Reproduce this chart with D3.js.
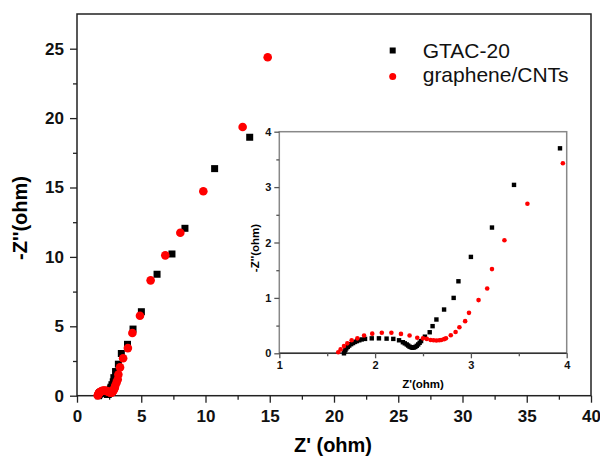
<!DOCTYPE html>
<html>
<head>
<meta charset="utf-8">
<script src="https://cdn.jsdelivr.net/npm/d3@7"></script>
<style>
  body { margin: 0; background: #fff; }
  svg { display: block; font-family: "Liberation Sans", Arial, sans-serif; }
</style>
</head>
<body>
<svg id="chart" width="600" height="461"></svg>
<script>
// datos (Z' y -Z'' en ohm)
const gtacZre = [1.675, 1.68, 1.69, 1.70, 1.715, 1.73, 1.75, 1.77, 1.79, 1.81, 1.835, 1.86, 1.895,
  1.965, 2.04, 2.12, 2.19, 2.25, 2.29, 2.31, 2.33, 2.345, 2.36, 2.375, 2.39, 2.405, 2.42, 2.435, 2.45,
  2.465, 2.48, 2.52, 2.57, 2.60, 2.64, 2.72, 2.82, 2.87, 3.00, 3.22, 3.45, 3.93,
  4.36, 5.01, 6.23, 7.39, 8.40, 10.71, 13.44];
const gtacZim = [0.0, 0.03, 0.06, 0.09, 0.115, 0.14, 0.165, 0.185, 0.205, 0.22, 0.235, 0.25, 0.26,
  0.27, 0.27, 0.265, 0.26, 0.235, 0.20, 0.18, 0.16, 0.14, 0.12, 0.11, 0.10, 0.105, 0.115, 0.135, 0.16,
  0.19, 0.22, 0.30, 0.38, 0.49, 0.61, 0.79, 1.00, 1.30, 1.74, 2.27, 3.04, 3.70,
  4.80, 6.05, 8.75, 10.21, 12.06, 16.36, 18.62];

const cntZre = [1.615, 1.64, 1.675, 1.71, 1.755, 1.815, 1.885, 1.97, 2.07, 2.17, 2.27, 2.36, 2.44,
  2.50, 2.54, 2.58, 2.61, 2.64, 2.67, 2.69, 2.72, 2.74, 2.79, 2.84, 2.88, 2.94, 2.98, 3.08, 3.17,
  3.22, 3.35, 3.59, 3.96, 4.31, 4.90, 5.73, 6.87, 8.04, 9.83, 12.89, 14.84];
const cntZim = [0.02, 0.07, 0.13, 0.18, 0.235, 0.27, 0.32, 0.355, 0.37, 0.37, 0.35, 0.32, 0.28,
  0.27, 0.26, 0.24, 0.235, 0.23, 0.235, 0.24, 0.255, 0.27, 0.325, 0.385, 0.47, 0.58, 0.73, 0.96, 1.17,
  1.52, 2.04, 2.70, 3.43, 4.52, 5.76, 8.31, 10.11, 11.74, 14.73, 19.36, 24.38];

const seriesNames = ["GTAC-20", "graphene/CNTs"];
const mainXTicks = [0, 5, 10, 15, 20, 25, 30, 35, 40];
const mainYTicks = [0, 5, 10, 15, 20, 25];
const insetXTicks = [1, 2, 3, 4];
const insetYTicks = [0, 1, 2, 3, 4];

const gtac = gtacZre.map((v, i) => ({ x: v, y: gtacZim[i] }));
const cnt = cntZre.map((v, i) => ({ x: v, y: cntZim[i] }));

const svg = d3.select("#chart");

// ---- grafico principal ----
const x = d3.scaleLinear().domain([0, 40]).range([77, 591]);
const y = d3.scaleLinear().domain([0, 27.5]).range([395.7, 14]);

function minors(ticks) {
  const out = [];
  for (let i = 0; i < ticks.length - 1; i++) out.push((ticks[i] + ticks[i + 1]) / 2);
  return out;
}

function ejes(g, xs, ys, xt, yt, opt) {
  // menores
  g.append("g")
    .attr("transform", `translate(0,${ys.range()[0]})`)
    .call(d3.axisBottom(xs).tickValues(minors(xt)).tickSize(opt.minor).tickFormat(""))
    .call(a => a.select(".domain").remove())
    .selectAll("line").attr("stroke", opt.color).attr("stroke-width", 1.3);
  g.append("g")
    .attr("transform", `translate(${xs.range()[0]},0)`)
    .call(d3.axisLeft(ys).tickValues(minors(yt)).tickSize(opt.minor).tickFormat(""))
    .call(a => a.select(".domain").remove())
    .selectAll("line").attr("stroke", opt.color).attr("stroke-width", 1.3);
  // mayores
  const ax = g.append("g")
    .attr("transform", `translate(0,${ys.range()[0]})`)
    .call(d3.axisBottom(xs).tickValues(xt).tickSize(opt.major).tickPadding(opt.padX).tickFormat(d3.format("d")))
    .call(a => a.select(".domain").remove());
  ax.selectAll("line").attr("stroke", opt.color).attr("stroke-width", 1.3);
  ax.selectAll("text").style("font-size", opt.font + "px").style("font-weight", "bold").attr("fill", "#111");
  const ay = g.append("g")
    .attr("transform", `translate(${xs.range()[0]},0)`)
    .call(d3.axisLeft(ys).tickValues(yt).tickSize(opt.major).tickPadding(opt.padY).tickFormat(d3.format("d")))
    .call(a => a.select(".domain").remove());
  ay.selectAll("line").attr("stroke", opt.color).attr("stroke-width", 1.3);
  ay.selectAll("text").style("font-size", opt.font + "px").style("font-weight", "bold").attr("fill", "#111");
}

const main = svg.append("g");
main.append("rect")
  .attr("x", x(0)).attr("y", y(27.5))
  .attr("width", x(40) - x(0)).attr("height", y(0) - y(27.5))
  .attr("fill", "#fff").attr("stroke", "#222").attr("stroke-width", 1.5);

ejes(main, x, y, mainXTicks, mainYTicks,
  { major: 7, minor: 4, padX: 7, padY: 6, font: 17, color: "#222" });

main.append("text")
  .attr("x", 333).attr("y", 452)
  .attr("text-anchor", "middle")
  .style("font-size", "20px").style("font-weight", "bold")
  .text("Z' (ohm)");
main.append("text")
  .attr("transform", "translate(27,218) rotate(-90)")
  .attr("text-anchor", "middle")
  .style("font-size", "20px").style("font-weight", "bold")
  .text("-Z''(ohm)");

main.selectAll("rect.gtac")
  .data(gtac).join("rect")
  .attr("class", "gtac")
  .attr("x", d => x(d.x) - 3.5).attr("y", d => y(d.y) - 3.5)
  .attr("width", 7).attr("height", 7).attr("fill", "#000");
// los circulos rojos quedan sobre los cuadrados
main.selectAll("circle.cnt")
  .data(cnt).join("circle")
  .attr("class", "cnt")
  .attr("cx", d => x(d.x)).attr("cy", d => y(d.y))
  .attr("r", 4.3).attr("fill", "#f00");

// leyenda
const leyenda = main.append("g").attr("transform", "translate(392.7,0)");
const filaY = [50.5, 76.5], textoY = [58.3, 82];
seriesNames.forEach((name, i) => {
  if (i === 0) {
    leyenda.append("rect").attr("x", -3).attr("y", filaY[i] - 3).attr("width", 6).attr("height", 6).attr("fill", "#000");
  } else {
    leyenda.append("circle").attr("cx", 0).attr("cy", filaY[i]).attr("r", 3.5).attr("fill", "#f00");
  }
  leyenda.append("text")
    .attr("x", 30).attr("y", textoY[i])
    .style("font-size", "21px")
    .attr("fill", "#111")
    .text(name);
});

// ---- recuadro ampliado ----
const xi = d3.scaleLinear().domain([1, 4]).range([279.3, 566.7]);
const yi = d3.scaleLinear().domain([0, 4]).range([353.3, 131.7]);
const inset = svg.append("g");
inset.append("rect")
  .attr("x", xi(1)).attr("y", yi(4))
  .attr("width", xi(4) - xi(1)).attr("height", yi(0) - yi(4))
  .attr("fill", "#fff").attr("stroke", "#888").attr("stroke-width", 1.5);
inset.append("line")
  .attr("x1", xi(1)).attr("x2", xi(4)).attr("y1", yi(0)).attr("y2", yi(0))
  .attr("stroke", "#333").attr("stroke-width", 1.5);

ejes(inset, xi, yi, insetXTicks, insetYTicks,
  { major: 5, minor: 3, padX: 3, padY: 3, font: 11, color: "#555" });

inset.append("text")
  .attr("x", 423).attr("y", 388)
  .attr("text-anchor", "middle")
  .style("font-size", "11.5px").style("font-weight", "bold")
  .text("Z'(ohm)");
inset.append("text")
  .attr("transform", "translate(259,248) rotate(-90)")
  .attr("text-anchor", "middle")
  .style("font-size", "11.5px").style("font-weight", "bold")
  .text("-Z''(ohm)");

const enRango = d => d.x <= 4.02 && d.y <= 4;
inset.selectAll("rect.gi")
  .data(gtac.filter(enRango)).join("rect")
  .attr("class", "gi")
  .attr("x", d => xi(d.x) - 2.2).attr("y", d => yi(d.y) - 2.2)
  .attr("width", 4.4).attr("height", 4.4).attr("fill", "#000");
inset.selectAll("circle.ci")
  .data(cnt.filter(enRango)).join("circle")
  .attr("class", "ci")
  .attr("cx", d => xi(d.x)).attr("cy", d => yi(d.y))
  .attr("r", 2.3).attr("fill", "#f00");
</script>
</body>
</html>
